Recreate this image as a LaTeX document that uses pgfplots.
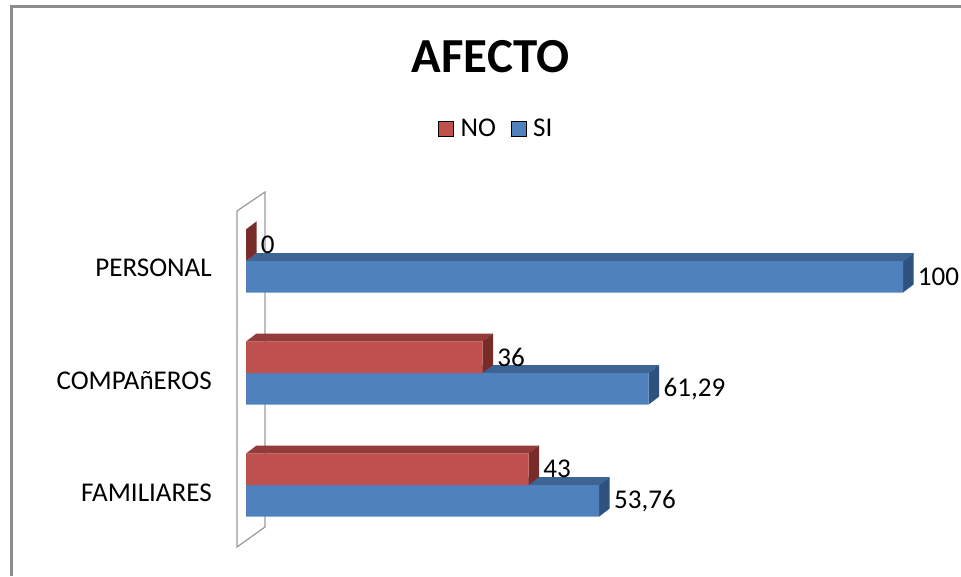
\documentclass[border=0pt]{standalone}
\usepackage{fontspec}
\setmainfont{Carlito}
\usepackage{pgfplots}
\usepackage{pgfplotstable}
\pgfplotsset{compat=1.18}
\definecolor{nofront}{HTML}{C0504D}
\definecolor{notop}{HTML}{943A38}
\definecolor{noside}{HTML}{772C2A}
\definecolor{sifront}{HTML}{4F81BD}
\definecolor{sitop}{HTML}{3C6494}
\definecolor{siside}{HTML}{2F5180}
\definecolor{framegray}{HTML}{8C8C8C}
\definecolor{wallgray}{HTML}{999999}

\pgfplotstableread{
c v lab
0 53.76 53,76
1 61.29 61,29
2 100 100
}\sidata
\pgfplotstableread{
c v lab
0 43 43
1 36 36
2 0 0
}\nodata

% 3D faces of a bar: value, bottom y, top colour, side colour
\newcommand{\faces}[4]{%
 \pgfmathsetmacro{\xa}{#1+1.6}%
 \pgfmathsetmacro{\ya}{#2+0.28125}%
 \pgfmathsetmacro{\yb}{#2+0.28125+0.0714}%
 \pgfmathsetmacro{\yc}{#2+0.0714}%
 \edef\tmp{\noexpand\addplot[fill=#3,draw=none,forget plot] coordinates {(0,\ya) (#1,\ya) (\xa,\yb) (1.6,\yb)};
 \noexpand\addplot[fill=#4,draw=none,forget plot] coordinates {(#1,#2) (\xa,\yc) (\xa,\yb) (#1,\ya)};}%
 \tmp}

\newcommand{\lblfont}{\fontsize{20.3}{24}\selectfont}

\begin{document}
\begin{tikzpicture}
\useasboundingbox (0,0) rectangle (720.75pt,432pt);
\begin{scope}[x=0.75pt,y=-0.75pt,shift={(0,-576)}]
 % outer frame
 \draw[framegray,line width=1.9pt] (11.3,576) -- (11.3,6.3) -- (961,6.3);
 % back wall
 \draw[wallgray,line width=0.9pt] (237,211) -- (265,192) -- (265,527) -- (237,547) -- cycle;
 % title
 \node[anchor=base,inner sep=0pt,font=\fontsize{36.7}{42}\selectfont\bfseries] at (490.5,73) {AFECTO};
\end{scope}
\begin{axis}[
 at={(184.5pt,17.85pt)}, anchor=south west,
 scale only axis, width=492.75pt, height=268.8pt,
 xmin=0, xmax=100, ymin=-0.6, ymax=2.6,
 axis line style={draw=none},
 xtick=\empty,
 ytick={-0.0714,0.9286,1.9375},
 yticklabels={FAMILIARES,COMPAñEROS,PERSONAL},
 major tick length=0pt,
 yticklabel style={anchor=east,inner sep=0pt,xshift=-25.5pt,font=\lblfont},
 clip=false,
 legend image code/.code={\fill[#1] (0pt,-5.6pt) rectangle (11.25pt,5.6pt); \path (14.5pt,0pt);},
 legend style={at={(0.3813,1.1808)},anchor=center,draw=none,fill=none,
   legend columns=2,font=\lblfont,
   /tikz/every even column/.append style={column sep=9pt}},
]
\addlegendimage{fill=nofront}\addlegendentry{NO}
\addlegendimage{fill=sifront}\addlegendentry{SI}
% SI series
\faces{53.76}{-0.28125}{sitop}{siside}
\faces{61.29}{0.71875}{sitop}{siside}
\faces{100}{1.71875}{sitop}{siside}
\addplot[xbar,bar width=0.28125,bar shift=0pt,fill=sifront,draw=none,forget plot,
  nodes near coords,point meta=explicit symbolic,
  nodes near coords style={anchor=west,inner sep=0pt,xshift=11pt,font=\lblfont,text=black}]
  table[x=v,y expr=\thisrow{c}-0.140625,meta=lab] {\sidata};
% NO series
\faces{43}{0}{notop}{noside}
\faces{36}{1}{notop}{noside}
\faces{0}{2}{notop}{noside}
\addplot[xbar,bar width=0.28125,bar shift=0pt,fill=nofront,draw=none,forget plot,
  nodes near coords,point meta=explicit symbolic,
  nodes near coords style={anchor=west,inner sep=0pt,xshift=11pt,font=\lblfont,text=black}]
  table[x=v,y expr=\thisrow{c}+0.140625,meta=lab] {\nodata};
\end{axis}
\end{tikzpicture}
\end{document}
